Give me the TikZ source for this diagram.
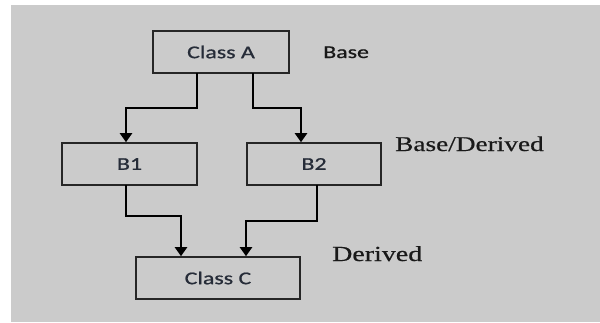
\documentclass[tikz,border=0pt]{standalone}
\usepackage{fontspec}
\usetikzlibrary{arrows.meta}
\newfontfamily\boxfont[FakeStretch=1.33,FakeBold=0.8]{Carlito}
\newfontfamily\notefont[FakeStretch=1.3,FakeBold=0.6]{Liberation Serif}
\definecolor{panel}{HTML}{CBCBCB}
\definecolor{boxtext}{HTML}{262C38}
\tikzset{
  classbox/.style={draw=black!85, line width=1.6pt, fill=panel, inner sep=0pt,
    text=boxtext, font=\boxfont\fontsize{18}{20}\selectfont},
  sidenote/.style={inner sep=0pt, text=black!90},
  link/.style={line width=2.3pt, -{Triangle[length=9pt,width=12pt]}, line cap=rect}
}
\begin{document}
\begin{tikzpicture}[x=1pt,y=-1pt]
  \useasboundingbox (0,0) rectangle (600,322);
  \fill[white] (0,0) rectangle (600,322);
  \fill[panel] (11,5) rectangle (600,322);

  % class boxes
  \node[classbox, minimum width=136pt, minimum height=42pt] (A) at (221,52) {Class A};
  \node[classbox, minimum width=135pt, minimum height=42pt] (B1) at (129.5,164) {B1};
  \node[classbox, minimum width=134pt, minimum height=42pt] (B2) at (314,164) {B2};
  \node[classbox, minimum width=164pt, minimum height=42pt] (C) at (218,278) {Class C};

  % side notes
  \node[sidenote, font=\boxfont\fontsize{18}{20}\selectfont, anchor=base west] (nbase) at (323,58) {Base};
  \node[sidenote, font=\notefont\fontsize{21}{24}\selectfont, anchor=base west] (nbd) at (395,151) {Base/Derived};
  \node[sidenote, font=\notefont\fontsize{21.5}{24}\selectfont, anchor=base west] (nder) at (332,261) {Derived};

  % inheritance arrows
  \draw[link] (A.south west -| 197,0) -- (197,108) -- (126,108) -- (B1.north -| 126,0);
  \draw[link] (A.south west -| 253,0) -- (253,108) -- (301,108) -- (B2.north -| 301,0);
  \draw[link] (B1.south -| 126,0) -- (126,216) -- (181,216) -- (C.north -| 181,0);
  \draw[link] (B2.south -| 317,0) -- (317,221) -- (246,221) -- (C.north -| 246,0);
\end{tikzpicture}
\end{document}
